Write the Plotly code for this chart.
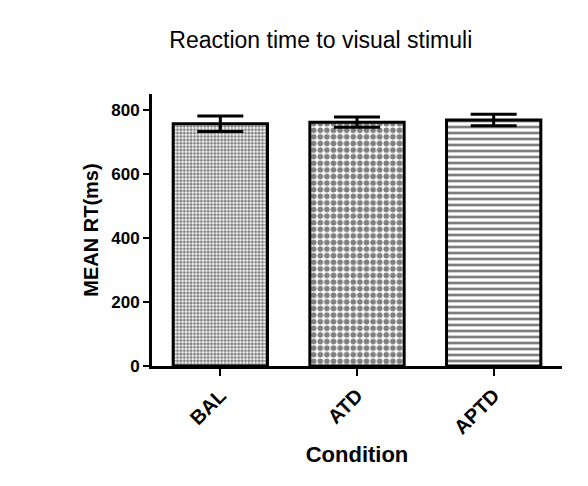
import plotly.graph_objects as go

categories = ["BAL", "ATD", "APTD"]
mean_rt = [757, 762, 769]
sem_rt = [24, 16, 18]
patterns = [".", ".", "-"]
pattern_sizes = [3.4, 6.6, 6]
pattern_solidity = [0.6, 0.58, 0.45]

fig = go.Figure()
for i, c in enumerate(categories):
    fig.add_trace(go.Bar(
        x=[c], y=[mean_rt[i]],
        width=0.69,
        marker=dict(
            color="white",
            line=dict(color="black", width=3),
            pattern=dict(shape=patterns[i], fgcolor="black", bgcolor="white",
                         size=pattern_sizes[i], solidity=pattern_solidity[i],
                         fillmode="overlay"),
        ),
        error_y=dict(type="data", array=[sem_rt[i]], color="black", thickness=3, width=23),
        showlegend=False,
    ))

fig.update_layout(
    width=588, height=486,
    margin=dict(l=144, r=34, t=86, b=128),
    plot_bgcolor="white", paper_bgcolor="white",
    font=dict(family="Liberation Sans, Arial, sans-serif", color="black"),
    title=dict(text="Reaction time to visual stimuli", xref="container", x=0.532,
               xanchor="center", y=0.934, yanchor="middle",
               font=dict(size=23, color="black")),
)
fig.update_xaxes(
    range=[-0.5, 2.5], showline=True, linecolor="black", linewidth=3,
    ticks="outside", ticklen=7, tickwidth=2, tickcolor="black",
    tickangle=-45, tickfont=dict(size=20, weight="bold"),
    title=dict(text="<b>Condition</b>", font=dict(size=22), standoff=10),
    showgrid=False, zeroline=False,
)
fig.update_yaxes(
    range=[0, 850], tickvals=[0, 200, 400, 600, 800],
    showline=True, linecolor="black", linewidth=3,
    ticks="outside", ticklen=6, tickwidth=2, tickcolor="black",
    tickfont=dict(size=17, weight="bold"),
    title=dict(text="<b>MEAN RT(ms)</b>", font=dict(size=20), standoff=8),
    showgrid=False, zeroline=False,
)

fig.write_html("out.html")
